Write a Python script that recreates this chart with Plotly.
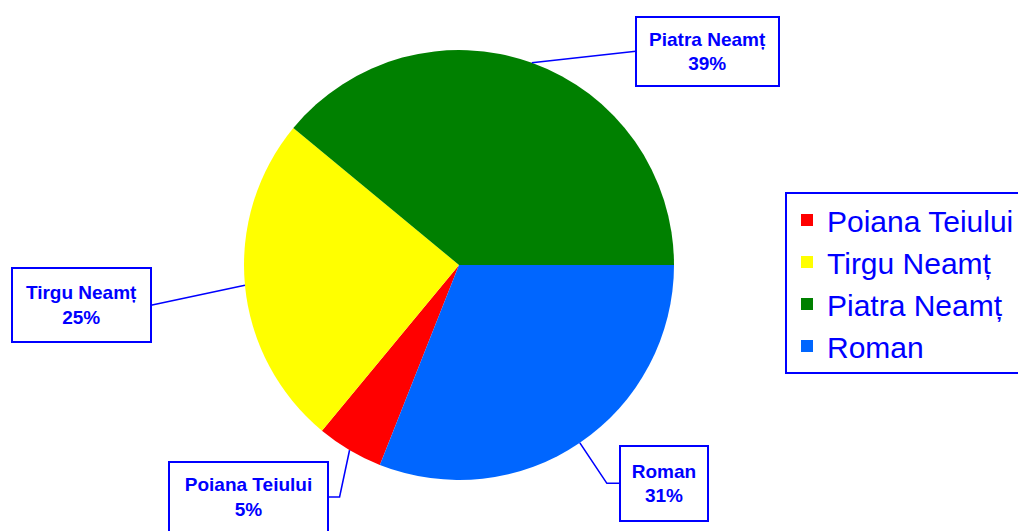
import math
import plotly.graph_objects as go

labels = ["Poiana Teiului", "Tirgu Neamț", "Piatra Neamț", "Roman"]
values = [5, 25, 39, 31]
colors = ["#FF0000", "#FFFF00", "#008000", "#0066FF"]

W, H = 1018, 531
CX, CY, R = 459, 265, 215  # pie centre / radius in pixels (from top-left)
BLUE = "#0000FF"
FONT = "Liberation Sans, Arial, sans-serif"

total = sum(values)
# Roman (last) begins at 3 o'clock going clockwise, so the first slice begins after it
rot = 90 + 360 * values[-1] / total
rot = ((rot + 180) % 360) - 180

# label box layout: pixel offset of box centre from the leader anchor, box size,
# and horizontal length of the elbow segment next to the box
label_layout = {
    "Poiana Teiului": dict(ax=-101.5, ay=47, w=155, h=66, ex=12),
    "Tirgu Neamț": dict(ax=-163.5, ay=20, w=135, h=70, ex=0),
    "Piatra Neamț": dict(ax=175.5, ay=-11.5, w=139, h=65, ex=0),
    "Roman": dict(ax=84, ay=40.5, w=84, h=71, ex=13),
}

fig = go.Figure(
    go.Pie(
        labels=labels,
        values=values,
        sort=False,
        direction="clockwise",
        rotation=rot,
        marker=dict(colors=colors, line=dict(width=0)),
        textinfo="none",
        hoverinfo="label+percent",
        domain=dict(x=[(CX - R) / W, (CX + R) / W],
                    y=[1 - (CY + R) / H, 1 - (CY - R) / H]),
    )
)


def to_paper(px, py):
    return px / W, 1 - py / H


annotations = []
shapes = []
cum = 0
for lab, v in zip(labels, values):
    a = math.radians(rot + 360 * (cum + v / 2) / total)
    cum += v
    px = CX + R * math.sin(a)
    py = CY - R * math.cos(a)
    L = label_layout[lab]
    bx, by = px + L["ax"], py + L["ay"]
    half = (L["w"] + 4) / 2
    side = -1 if L["ax"] > 0 else 1  # box edge facing the pie
    edge_x = bx + side * half
    elbow_x = edge_x + side * L["ex"]
    pts = [to_paper(px, py), to_paper(elbow_x, by), to_paper(edge_x, by)]
    path = "M " + " L ".join(f"{x:.5f},{y:.5f}" for x, y in pts)
    shapes.append(dict(type="path", path=path, xref="paper", yref="paper",
                       line=dict(color=BLUE, width=1.6)))
    cx_, cy_ = to_paper(bx, by)
    annotations.append(dict(
        x=cx_, y=cy_, xref="paper", yref="paper",
        xanchor="center", yanchor="middle",
        text=f"<b>{lab}</b><br><b>{round(100 * v / total)}%</b>",
        showarrow=False,
        bordercolor=BLUE, borderwidth=2, bgcolor="white",
        width=L["w"], height=L["h"], align="center", valign="middle",
        font=dict(family=FONT, size=19, color=BLUE),
    ))

fig.update_layout(
    width=W, height=H,
    margin=dict(l=0, r=0, t=0, b=0, autoexpand=False),
    paper_bgcolor="white",
    plot_bgcolor="white",
    annotations=annotations,
    shapes=shapes,
    showlegend=True,
    legend=dict(
        x=785 / W, y=1 - 192 / H, xanchor="left", yanchor="top",
        bordercolor=BLUE, borderwidth=2, bgcolor="white",
        font=dict(family=FONT, size=30, color=BLUE),
        traceorder="normal",
    ),
)

fig.write_html("out.html")
